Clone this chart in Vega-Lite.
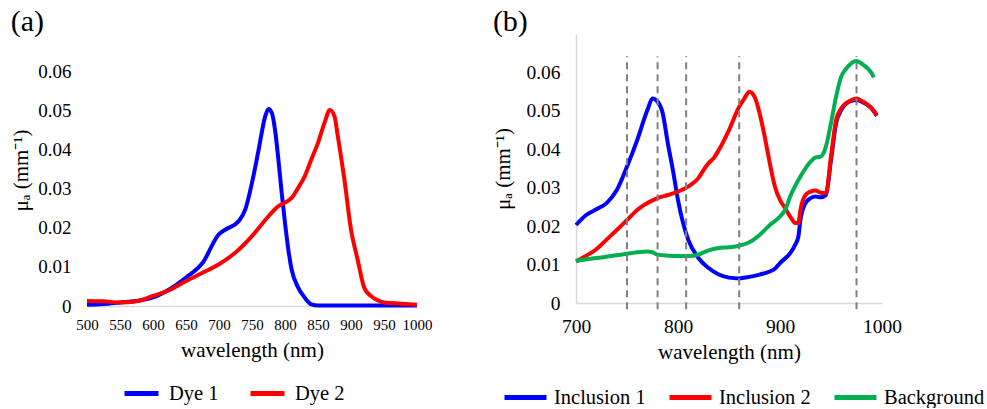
{
  "$schema": "https://vega.github.io/schema/vega-lite/v6.json",
  "padding": {"left": 10, "top": 6, "right": 0, "bottom": 0},
  "background": "white",
  "config": {
    "font": "Liberation Serif, Times New Roman, serif",
    "view": {"stroke": null},
    "style": {"guide-label": {"font": "Liberation Serif, Times New Roman, serif"}, "guide-title": {"font": "Liberation Serif, Times New Roman, serif"}, "group-title": {"font": "Liberation Serif, Times New Roman, serif"}},
    "axis": {"grid": false, "ticks": false, "domainColor": "#d9d9d9", "domainWidth": 1.5, "labelColor": "#000", "titleColor": "#000", "labelFont": "Liberation Serif, Times New Roman, serif", "titleFont": "Liberation Serif, Times New Roman, serif", "titleFontWeight": "normal", "titleFontSize": 21, "labelFlush": false, "labelOverlap": false},
    "legend": {"labelFont": "Liberation Serif, Times New Roman, serif", "labelFontSize": 20.5, "labelColor": "#000", "symbolType": "stroke", "symbolStrokeWidth": 5, "orient": "none", "direction": "horizontal", "title": null},
    "title": {"font": "Liberation Serif, Times New Roman, serif", "fontSize": 30, "fontWeight": "normal", "anchor": "start", "color": "#000", "offset": -1.7, "dy": 1}
  },
  "datasets": {
    "dyes": [
      {"wl": 500, "mua": 0.0003, "s": "Dye 1"},
      {"wl": 525, "mua": 0.0005, "s": "Dye 1"},
      {"wl": 550, "mua": 0.0009, "s": "Dye 1"},
      {"wl": 575, "mua": 0.0013, "s": "Dye 1"},
      {"wl": 600, "mua": 0.0022, "s": "Dye 1"},
      {"wl": 625, "mua": 0.0043, "s": "Dye 1"},
      {"wl": 650, "mua": 0.0073, "s": "Dye 1"},
      {"wl": 675, "mua": 0.011, "s": "Dye 1"},
      {"wl": 700, "mua": 0.0184, "s": "Dye 1"},
      {"wl": 710, "mua": 0.0196, "s": "Dye 1"},
      {"wl": 730, "mua": 0.0218, "s": "Dye 1"},
      {"wl": 740, "mua": 0.0248, "s": "Dye 1"},
      {"wl": 750, "mua": 0.0316, "s": "Dye 1"},
      {"wl": 760, "mua": 0.040, "s": "Dye 1"},
      {"wl": 770, "mua": 0.0486, "s": "Dye 1"},
      {"wl": 775, "mua": 0.0505, "s": "Dye 1"},
      {"wl": 780, "mua": 0.0495, "s": "Dye 1"},
      {"wl": 785, "mua": 0.045, "s": "Dye 1"},
      {"wl": 790, "mua": 0.0375, "s": "Dye 1"},
      {"wl": 795, "mua": 0.029, "s": "Dye 1"},
      {"wl": 800, "mua": 0.0213, "s": "Dye 1"},
      {"wl": 805, "mua": 0.0145, "s": "Dye 1"},
      {"wl": 810, "mua": 0.0094, "s": "Dye 1"},
      {"wl": 820, "mua": 0.0047, "s": "Dye 1"},
      {"wl": 830, "mua": 0.0021, "s": "Dye 1"},
      {"wl": 840, "mua": 0.0004, "s": "Dye 1"},
      {"wl": 850, "mua": 0.0001, "s": "Dye 1"},
      {"wl": 900, "mua": 0.0001, "s": "Dye 1"},
      {"wl": 950, "mua": 0.0001, "s": "Dye 1"},
      {"wl": 1000, "mua": 0.0001, "s": "Dye 1"},
      {"wl": 500, "mua": 0.0013, "s": "Dye 2"},
      {"wl": 525, "mua": 0.0012, "s": "Dye 2"},
      {"wl": 550, "mua": 0.0009, "s": "Dye 2"},
      {"wl": 575, "mua": 0.0012, "s": "Dye 2"},
      {"wl": 600, "mua": 0.0026, "s": "Dye 2"},
      {"wl": 625, "mua": 0.0041, "s": "Dye 2"},
      {"wl": 650, "mua": 0.0064, "s": "Dye 2"},
      {"wl": 675, "mua": 0.0085, "s": "Dye 2"},
      {"wl": 700, "mua": 0.0107, "s": "Dye 2"},
      {"wl": 725, "mua": 0.0137, "s": "Dye 2"},
      {"wl": 750, "mua": 0.0179, "s": "Dye 2"},
      {"wl": 775, "mua": 0.023, "s": "Dye 2"},
      {"wl": 790, "mua": 0.0256, "s": "Dye 2"},
      {"wl": 800, "mua": 0.0265, "s": "Dye 2"},
      {"wl": 810, "mua": 0.0277, "s": "Dye 2"},
      {"wl": 820, "mua": 0.0303, "s": "Dye 2"},
      {"wl": 830, "mua": 0.0333, "s": "Dye 2"},
      {"wl": 840, "mua": 0.0376, "s": "Dye 2"},
      {"wl": 850, "mua": 0.0418, "s": "Dye 2"},
      {"wl": 860, "mua": 0.047, "s": "Dye 2"},
      {"wl": 868, "mua": 0.0502, "s": "Dye 2"},
      {"wl": 875, "mua": 0.0486, "s": "Dye 2"},
      {"wl": 880, "mua": 0.0435, "s": "Dye 2"},
      {"wl": 890, "mua": 0.0324, "s": "Dye 2"},
      {"wl": 900, "mua": 0.0196, "s": "Dye 2"},
      {"wl": 910, "mua": 0.0119, "s": "Dye 2"},
      {"wl": 920, "mua": 0.0047, "s": "Dye 2"},
      {"wl": 930, "mua": 0.0026, "s": "Dye 2"},
      {"wl": 940, "mua": 0.0015, "s": "Dye 2"},
      {"wl": 950, "mua": 0.0009, "s": "Dye 2"},
      {"wl": 975, "mua": 0.0006, "s": "Dye 2"},
      {"wl": 1000, "mua": 0.0003, "s": "Dye 2"}
    ],
    "incl": [
      {"wl": 700, "mua": 0.0203, "s": "Inclusion 1"},
      {"wl": 710, "mua": 0.0229, "s": "Inclusion 1"},
      {"wl": 720, "mua": 0.0244, "s": "Inclusion 1"},
      {"wl": 730, "mua": 0.026, "s": "Inclusion 1"},
      {"wl": 740, "mua": 0.0294, "s": "Inclusion 1"},
      {"wl": 750, "mua": 0.0355, "s": "Inclusion 1"},
      {"wl": 760, "mua": 0.0424, "s": "Inclusion 1"},
      {"wl": 770, "mua": 0.0502, "s": "Inclusion 1"},
      {"wl": 775, "mua": 0.0532, "s": "Inclusion 1"},
      {"wl": 780, "mua": 0.0524, "s": "Inclusion 1"},
      {"wl": 785, "mua": 0.0494, "s": "Inclusion 1"},
      {"wl": 790, "mua": 0.0416, "s": "Inclusion 1"},
      {"wl": 795, "mua": 0.0346, "s": "Inclusion 1"},
      {"wl": 800, "mua": 0.0268, "s": "Inclusion 1"},
      {"wl": 805, "mua": 0.0208, "s": "Inclusion 1"},
      {"wl": 810, "mua": 0.0165, "s": "Inclusion 1"},
      {"wl": 820, "mua": 0.0117, "s": "Inclusion 1"},
      {"wl": 830, "mua": 0.0091, "s": "Inclusion 1"},
      {"wl": 840, "mua": 0.0074, "s": "Inclusion 1"},
      {"wl": 850, "mua": 0.0066, "s": "Inclusion 1"},
      {"wl": 860, "mua": 0.0064, "s": "Inclusion 1"},
      {"wl": 870, "mua": 0.0068, "s": "Inclusion 1"},
      {"wl": 880, "mua": 0.0074, "s": "Inclusion 1"},
      {"wl": 890, "mua": 0.0082, "s": "Inclusion 1"},
      {"wl": 895, "mua": 0.0089, "s": "Inclusion 1"},
      {"wl": 900, "mua": 0.0104, "s": "Inclusion 1"},
      {"wl": 910, "mua": 0.013, "s": "Inclusion 1"},
      {"wl": 915, "mua": 0.0152, "s": "Inclusion 1"},
      {"wl": 918, "mua": 0.0173, "s": "Inclusion 1"},
      {"wl": 920, "mua": 0.0216, "s": "Inclusion 1"},
      {"wl": 925, "mua": 0.026, "s": "Inclusion 1"},
      {"wl": 930, "mua": 0.0273, "s": "Inclusion 1"},
      {"wl": 935, "mua": 0.0277, "s": "Inclusion 1"},
      {"wl": 940, "mua": 0.0275, "s": "Inclusion 1"},
      {"wl": 945, "mua": 0.0281, "s": "Inclusion 1"},
      {"wl": 950, "mua": 0.0372, "s": "Inclusion 1"},
      {"wl": 955, "mua": 0.0468, "s": "Inclusion 1"},
      {"wl": 960, "mua": 0.0502, "s": "Inclusion 1"},
      {"wl": 970, "mua": 0.0526, "s": "Inclusion 1"},
      {"wl": 975, "mua": 0.0528, "s": "Inclusion 1"},
      {"wl": 980, "mua": 0.0524, "s": "Inclusion 1"},
      {"wl": 990, "mua": 0.0506, "s": "Inclusion 1"},
      {"wl": 995, "mua": 0.0487, "s": "Inclusion 1"},
      {"wl": 700, "mua": 0.0108, "s": "Inclusion 2"},
      {"wl": 710, "mua": 0.0123, "s": "Inclusion 2"},
      {"wl": 720, "mua": 0.014, "s": "Inclusion 2"},
      {"wl": 730, "mua": 0.0165, "s": "Inclusion 2"},
      {"wl": 740, "mua": 0.019, "s": "Inclusion 2"},
      {"wl": 750, "mua": 0.0216, "s": "Inclusion 2"},
      {"wl": 760, "mua": 0.0242, "s": "Inclusion 2"},
      {"wl": 770, "mua": 0.026, "s": "Inclusion 2"},
      {"wl": 780, "mua": 0.0273, "s": "Inclusion 2"},
      {"wl": 790, "mua": 0.0281, "s": "Inclusion 2"},
      {"wl": 800, "mua": 0.029, "s": "Inclusion 2"},
      {"wl": 810, "mua": 0.0303, "s": "Inclusion 2"},
      {"wl": 820, "mua": 0.0325, "s": "Inclusion 2"},
      {"wl": 825, "mua": 0.0346, "s": "Inclusion 2"},
      {"wl": 830, "mua": 0.0364, "s": "Inclusion 2"},
      {"wl": 835, "mua": 0.0377, "s": "Inclusion 2"},
      {"wl": 840, "mua": 0.0398, "s": "Inclusion 2"},
      {"wl": 850, "mua": 0.045, "s": "Inclusion 2"},
      {"wl": 860, "mua": 0.0511, "s": "Inclusion 2"},
      {"wl": 865, "mua": 0.0532, "s": "Inclusion 2"},
      {"wl": 870, "mua": 0.055, "s": "Inclusion 2"},
      {"wl": 875, "mua": 0.0537, "s": "Inclusion 2"},
      {"wl": 880, "mua": 0.0494, "s": "Inclusion 2"},
      {"wl": 885, "mua": 0.0433, "s": "Inclusion 2"},
      {"wl": 890, "mua": 0.0364, "s": "Inclusion 2"},
      {"wl": 895, "mua": 0.0303, "s": "Inclusion 2"},
      {"wl": 900, "mua": 0.0268, "s": "Inclusion 2"},
      {"wl": 905, "mua": 0.0247, "s": "Inclusion 2"},
      {"wl": 910, "mua": 0.0225, "s": "Inclusion 2"},
      {"wl": 915, "mua": 0.0208, "s": "Inclusion 2"},
      {"wl": 918, "mua": 0.0208, "s": "Inclusion 2"},
      {"wl": 920, "mua": 0.0242, "s": "Inclusion 2"},
      {"wl": 925, "mua": 0.0281, "s": "Inclusion 2"},
      {"wl": 930, "mua": 0.029, "s": "Inclusion 2"},
      {"wl": 935, "mua": 0.0293, "s": "Inclusion 2"},
      {"wl": 940, "mua": 0.0287, "s": "Inclusion 2"},
      {"wl": 945, "mua": 0.0286, "s": "Inclusion 2"},
      {"wl": 950, "mua": 0.0381, "s": "Inclusion 2"},
      {"wl": 955, "mua": 0.0476, "s": "Inclusion 2"},
      {"wl": 960, "mua": 0.0506, "s": "Inclusion 2"},
      {"wl": 970, "mua": 0.0528, "s": "Inclusion 2"},
      {"wl": 975, "mua": 0.0532, "s": "Inclusion 2"},
      {"wl": 980, "mua": 0.0526, "s": "Inclusion 2"},
      {"wl": 990, "mua": 0.0506, "s": "Inclusion 2"},
      {"wl": 995, "mua": 0.0489, "s": "Inclusion 2"},
      {"wl": 700, "mua": 0.011, "s": "Background"},
      {"wl": 720, "mua": 0.0117, "s": "Background"},
      {"wl": 740, "mua": 0.0124, "s": "Background"},
      {"wl": 750, "mua": 0.0128, "s": "Background"},
      {"wl": 760, "mua": 0.0132, "s": "Background"},
      {"wl": 770, "mua": 0.0134, "s": "Background"},
      {"wl": 775, "mua": 0.0132, "s": "Background"},
      {"wl": 780, "mua": 0.0126, "s": "Background"},
      {"wl": 790, "mua": 0.0123, "s": "Background"},
      {"wl": 800, "mua": 0.0122, "s": "Background"},
      {"wl": 810, "mua": 0.0122, "s": "Background"},
      {"wl": 820, "mua": 0.0126, "s": "Background"},
      {"wl": 830, "mua": 0.0137, "s": "Background"},
      {"wl": 840, "mua": 0.0143, "s": "Background"},
      {"wl": 850, "mua": 0.0145, "s": "Background"},
      {"wl": 860, "mua": 0.0149, "s": "Background"},
      {"wl": 870, "mua": 0.0158, "s": "Background"},
      {"wl": 880, "mua": 0.0177, "s": "Background"},
      {"wl": 890, "mua": 0.0203, "s": "Background"},
      {"wl": 900, "mua": 0.0225, "s": "Background"},
      {"wl": 905, "mua": 0.0242, "s": "Background"},
      {"wl": 910, "mua": 0.0277, "s": "Background"},
      {"wl": 920, "mua": 0.0329, "s": "Background"},
      {"wl": 930, "mua": 0.0368, "s": "Background"},
      {"wl": 935, "mua": 0.0379, "s": "Background"},
      {"wl": 940, "mua": 0.0381, "s": "Background"},
      {"wl": 945, "mua": 0.0407, "s": "Background"},
      {"wl": 950, "mua": 0.0468, "s": "Background"},
      {"wl": 955, "mua": 0.0537, "s": "Background"},
      {"wl": 960, "mua": 0.0589, "s": "Background"},
      {"wl": 965, "mua": 0.061, "s": "Background"},
      {"wl": 975, "mua": 0.063, "s": "Background"},
      {"wl": 980, "mua": 0.0623, "s": "Background"},
      {"wl": 990, "mua": 0.0597, "s": "Background"},
      {"wl": 992, "mua": 0.0587, "s": "Background"}
    ],
    "marks": [
      {"wl": 750}, {"wl": 780}, {"wl": 808}, {"wl": 860}, {"wl": 975}
    ]
  },
  "hconcat": [
    {
      "title": {"text": "(a)", "font": "Liberation Serif, Times New Roman, serif"},
      "width": 330,
      "height": 272,
      "layer": [
        {
          "data": {"name": "dyes"},
          "mark": {"type": "line", "strokeWidth": 4, "interpolate": "monotone"},
          "encoding": {
            "x": {"field": "wl", "type": "quantitative", "scale": {"domain": [500, 1000], "nice": false, "zero": false},
              "axis": {"title": "wavelength (nm)", "values": [500,550,600,650,700,750,800,850,900,950,1000], "tickCount": 11, "format": "d", "labelOverlap": false, "labelSeparation": -30, "labelFlush": false, "labelFont": "Liberation Serif, Times New Roman, serif", "titleFont": "Liberation Serif, Times New Roman, serif", "labelFontSize": 15, "labelPadding": 11, "titlePadding": 7}},
            "y": {"field": "mua", "type": "quantitative", "scale": {"domain": [0, 0.0697], "nice": false},
              "axis": {"title": "μₐ (mm⁻¹)", "values": [0,0.01,0.02,0.03,0.04,0.05,0.06], "format": "~g", "domain": false, "labelFont": "Liberation Serif, Times New Roman, serif", "titleFont": "Liberation Serif, Times New Roman, serif", "labelFontSize": 19, "labelPadding": 16, "titlePadding": 6}},
            "color": {"field": "s", "type": "nominal", "scale": {"domain": ["Dye 1", "Dye 2"], "range": ["#0000ff", "#ff0000"]},
              "legend": {"symbolSize": 1156, "legendX": 35, "legendY": 340, "columnPadding": 21, "labelOffset": 8}}
          }
        },
        {
          "mark": {"type": "rule", "color": "#d9d9d9", "strokeWidth": 1.5},
          "encoding": {
            "x": {"datum": 500, "type": "quantitative", "scale": {"domain": [500, 1000], "nice": false, "zero": false},
              "axis": {"title": "wavelength (nm)", "values": [500,550,600,650,700,750,800,850,900,950,1000], "tickCount": 11, "format": "d", "labelOverlap": false, "labelSeparation": -30, "labelFlush": false, "labelFont": "Liberation Serif, Times New Roman, serif", "titleFont": "Liberation Serif, Times New Roman, serif", "labelFontSize": 15, "labelPadding": 11, "titlePadding": 7}},
            "y": {"datum": 0, "type": "quantitative", "scale": {"domain": [0, 0.0697], "nice": false},
              "axis": {"title": "μₐ (mm⁻¹)", "values": [0,0.01,0.02,0.03,0.04,0.05,0.06], "format": "~g", "domain": false, "labelFont": "Liberation Serif, Times New Roman, serif", "titleFont": "Liberation Serif, Times New Roman, serif", "labelFontSize": 19, "labelPadding": 16, "titlePadding": 6}},
            "y2": {"datum": 0.06}
          }
        }
      ]
    },
    {
      "title": {"text": "(b)", "font": "Liberation Serif, Times New Roman, serif"},
      "width": 306,
      "height": 269,
      "layer": [
        {
          "data": {"name": "incl"},
          "mark": {"type": "line", "strokeWidth": 4, "interpolate": "monotone"},
          "encoding": {
            "x": {"field": "wl", "type": "quantitative", "scale": {"domain": [700, 1000], "nice": false, "zero": false},
              "axis": {"title": "wavelength (nm)", "values": [700,800,900,1000], "format": "d", "labelOverlap": false, "labelFlush": false, "labelFont": "Liberation Serif, Times New Roman, serif", "titleFont": "Liberation Serif, Times New Roman, serif", "labelFontSize": 19.5, "labelPadding": 14, "titlePadding": 6}},
            "y": {"field": "mua", "type": "quantitative", "scale": {"domain": [0, 0.07], "nice": false},
              "axis": {"title": "μₐ (mm⁻¹)", "values": [0,0.01,0.02,0.03,0.04,0.05,0.06], "format": "~g", "labelFont": "Liberation Serif, Times New Roman, serif", "titleFont": "Liberation Serif, Times New Roman, serif", "labelFontSize": 19.5, "labelPadding": 16, "titlePadding": 12}},
            "color": {"field": "s", "type": "nominal", "scale": {"domain": ["Inclusion 1", "Inclusion 2", "Background"], "range": ["#0000ff", "#ff0000", "#00b050"]},
              "legend": {"symbolSize": 1764, "legendX": -74, "legendY": 340, "columnPadding": 13, "labelOffset": 5}}
          }
        },
        {
          "data": {"name": "marks"},
          "mark": {"type": "rule", "color": "#808080", "strokeWidth": 2, "strokeDash": [7, 5]},
          "encoding": {
            "x": {"field": "wl", "type": "quantitative", "scale": {"domain": [700, 1000], "nice": false, "zero": false}},
            "y": {"datum": -0.0016, "type": "quantitative", "scale": {"domain": [0, 0.07], "nice": false}},
            "y2": {"datum": 0.0642}
          }
        }
      ]
    }
  ],
  "spacing": 60,
  "resolve": {"scale": {"color": "independent", "x": "independent", "y": "independent"}}
}
